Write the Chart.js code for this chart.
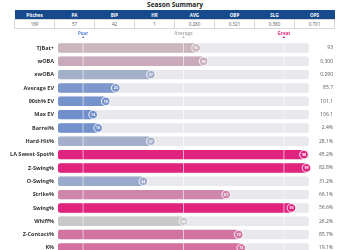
<!DOCTYPE html>
<html>
<head>
<meta charset="utf-8">
<script src="https://cdn.jsdelivr.net/npm/chart.js@4/dist/chart.umd.min.js"></script>
<style>
  body { margin: 0; background: #fff; font-family: "Open Sans", sans-serif; }
  #wrap { position: relative; width: 350px; height: 250px; overflow: hidden; }
  #title { position: absolute; top: 0; left: 0; width: 350px; text-align: center; font-size: 6.5px; font-weight: 700; color: #222; line-height: 10px; }
  table { position: absolute; top: 10px; left: 14px; width: 321px; border-collapse: collapse; table-layout: fixed; font-size: 4.5px; }
  th { background: #164a8c; color: #fff; font-weight: 700; height: 9px; padding: 0; }
  td { color: #555; text-align: center; height: 8px; padding: 0; border: 0.5px solid #d8d8d8; }
  canvas { position: absolute; top: 0; left: 0; }
</style>
</head>
<body>
<div id="wrap">
  <div id="title">Season Summary</div>
  <table>
    <thead><tr id="head"></tr></thead>
    <tbody><tr id="vals"></tr></tbody>
  </table>
  <canvas id="chart" width="350" height="262"></canvas>
</div>
<script>
// season summary table
const summaryCols = ['Pitches', 'PA', 'BIP', 'HR', 'AVG', 'OBP', 'SLG', 'OPS']
const summaryVals = ['189', '57', '42', '1', '0.280', '0.321', '0.380', '0.701']

// percentile rows
const metrics = ['TJBat+', 'wOBA', 'xwOBA', 'Average EV', '90th% EV', 'Max EV', 'Barrel%', 'Hard-Hit%',
  'LA Sweet-Spot%', 'Z-Swing%', 'O-Swing%', 'Strike%', 'Swing%', 'Whiff%', 'Z-Contact%', 'K%']
const percentiles = [55, 58, 37, 23, 19, 14, 16, 37, 98, 99, 34, 67, 93, 50, 72, 73]
const rawValues = ['93', '0.300', '0.290', '85.7', '101.1', '106.1', '2.4%', '28.1%',
  '45.2%', '82.8%', '31.2%', '66.1%', '56.6%', '26.2%', '85.7%', '19.1%']

const markers = [
  {label: 'Poor', at: 10, color: '#5f83cf'},
  {label: 'Average', at: 50, color: '#b0b0b0'},
  {label: 'Great', at: 90, color: '#e0237e'}
]

document.getElementById('head').innerHTML = summaryCols.map(c => '<th>' + c + '</th>').join('')
document.getElementById('vals').innerHTML = summaryVals.map(v => '<td>' + v + '</td>').join('')

// colour from percentile: blue -> grey -> pink
const stops = [[0, [90, 127, 203]], [25, [128, 153, 204]], [50, [200, 200, 200]],
  [60, [201, 163, 182]], [75, [212, 104, 156]], [90, [224, 35, 126]], [100, [224, 35, 126]]]
function pctColor(p) {
  for (let i = 1; i < stops.length; i++) {
    if (p <= stops[i][0]) {
      const [a, ca] = stops[i - 1], [b, cb] = stops[i]
      const t = (p - a) / (b - a)
      const c = ca.map((v, k) => Math.round(v + (cb[k] - v) * t))
      return 'rgb(' + c.join(',') + ')'
    }
  }
  return 'rgb(224,35,126)'
}
const barColors = percentiles.map(pctColor)

const overlay = {
  id: 'overlay',
  afterDatasetsDraw(chart) {
    const ctx = chart.ctx
    const x = chart.scales.x
    const area = chart.chartArea
    ctx.save()
    // reference lines + markers
    markers.forEach(m => {
      const px = x.getPixelForValue(m.at)
      ctx.strokeStyle = 'rgba(255,255,255,0.75)'
      ctx.lineWidth = 0.8
      ctx.beginPath()
      ctx.moveTo(px, area.top - 3)
      ctx.lineTo(px, area.bottom)
      ctx.stroke()
      ctx.fillStyle = m.color
      ctx.font = '700 4.5px "Open Sans"'
      ctx.textAlign = 'center'
      ctx.textBaseline = 'middle'
      ctx.fillText(m.label, px, area.top - 7.5)
      ctx.beginPath()
      ctx.moveTo(px - 1.3, area.top - 3.2)
      ctx.lineTo(px + 1.3, area.top - 3.2)
      ctx.lineTo(px, area.top - 5.2)
      ctx.closePath()
      ctx.fill()
    })
    // percentile bubbles
    chart.getDatasetMeta(0).data.forEach((el, i) => {
      ctx.beginPath()
      ctx.arc(el.x, el.y, 4.3, 0, Math.PI * 2)
      ctx.fillStyle = barColors[i]
      ctx.fill()
      ctx.strokeStyle = '#fff'
      ctx.lineWidth = 0.9
      ctx.stroke()
      ctx.fillStyle = '#fff'
      ctx.font = '700 3.6px "Open Sans"'
      ctx.textAlign = 'center'
      ctx.textBaseline = 'middle'
      ctx.fillText(percentiles[i], el.x, el.y + 0.2)
    })
    ctx.restore()
  }
}

new Chart(document.getElementById('chart'), {
  type: 'bar',
  data: {
    labels: metrics,
    datasets: [
      {
        data: percentiles,
        backgroundColor: barColors,
        borderRadius: 2,
        borderSkipped: false,
        grouped: false,
        categoryPercentage: 1,
        barPercentage: 0.71
      },
      {
        data: metrics.map(() => 100),
        backgroundColor: '#e8e8ed',
        borderRadius: 2.5,
        borderSkipped: false,
        grouped: false,
        categoryPercentage: 1,
        barPercentage: 0.71
      }
    ]
  },
  options: {
    indexAxis: 'y',
    responsive: false,
    animation: false,
    devicePixelRatio: 1,
    layout: { padding: { top: 41.3, right: 17, bottom: 7.4, left: 0 } },
    plugins: { legend: { display: false }, tooltip: { enabled: false } },
    scales: {
      x: { display: false, min: 0, max: 100 },
      y: {
        position: 'left',
        grid: { display: false, drawTicks: false },
        border: { display: false },
        ticks: { padding: 4, color: '#333', font: { family: 'Open Sans', size: 5.5, weight: '700' } },
        afterFit(s) { s.width = 58 }
      },
      y2: {
        type: 'category',
        position: 'right',
        labels: rawValues,
        grid: { display: false, drawTicks: false },
        border: { display: false },
        ticks: { crossAlign: 'far', color: '#555', font: { family: 'Open Sans', size: 5 } },
        afterFit(s) { s.width = 24 }
      }
    }
  },
  plugins: [overlay]
})
</script>
</body>
</html>
